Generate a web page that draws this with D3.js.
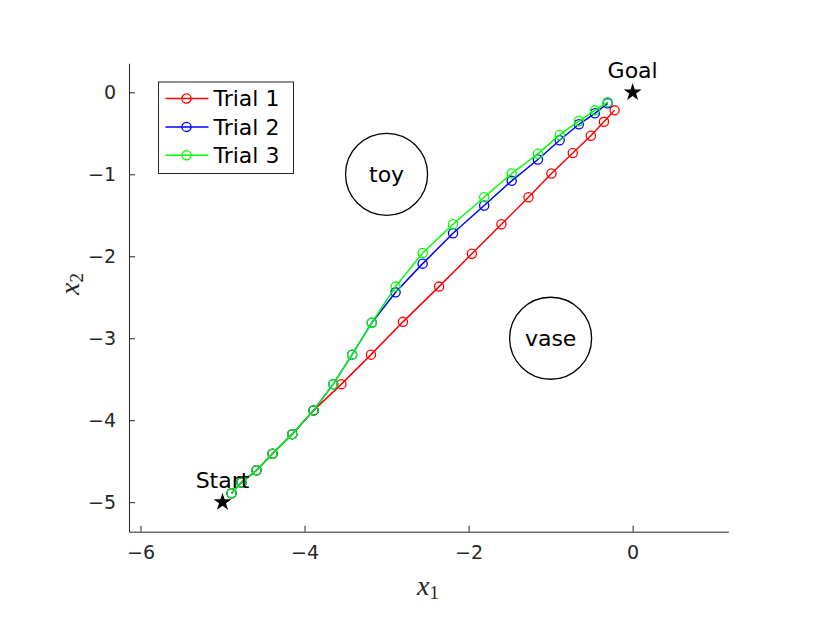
<!DOCTYPE html>
<html>
<head>
<meta charset="utf-8">
<script src="https://cdn.jsdelivr.net/npm/d3@7"></script>
<style>
  body { margin: 0; background: #fff; }
</style>
</head>
<body>
<svg width="830" height="623"></svg>
<script>
const trialNames = ['Trial 1', 'Trial 2', 'Trial 3'];
const trialColors = ['#ff0000', '#0000ff', '#00ff00'];

// shared first part of every trial
const sharedX = [-4.89, -4.77, -4.585, -4.39, -4.15, -3.89];
const sharedY = [-4.89, -4.76, -4.61, -4.41, -4.17, -3.88];

const trial1X = [-3.55, -3.19, -2.80, -2.36, -1.96, -1.60, -1.27, -0.99, -0.73, -0.51, -0.35, -0.22];
const trial1Y = [-3.56, -3.20, -2.80, -2.37, -1.97, -1.61, -1.28, -0.99, -0.74, -0.53, -0.36, -0.22];

const trial2X = [-3.65, -3.42, -3.18, -2.89, -2.56, -2.19, -1.81, -1.475, -1.155, -0.89, -0.655, -0.46, -0.305];
const trial2Y = [-3.56, -3.20, -2.81, -2.44, -2.09, -1.72, -1.38, -1.08, -0.82, -0.585, -0.39, -0.256, -0.134];

const trial3X = [-3.65, -3.42, -3.18, -2.89, -2.56, -2.19, -1.81, -1.475, -1.155, -0.89, -0.655, -0.46, -0.305];
const trial3Y = [-3.56, -3.20, -2.81, -2.37, -1.96, -1.61, -1.28, -0.99, -0.75, -0.52, -0.35, -0.22, -0.12];

const obstacleNames = ['toy', 'vase'];
const obstacleX = [-3, -1];
const obstacleY = [-1, -3];
const obstacleR = 0.5;

const markerNames = ['Start', 'Goal'];
const markerX = [-5, 0];
const markerY = [-5, 0];

const xTicks = [-6, -4, -2, 0];
const yTicks = [0, -1, -2, -3, -4, -5];

const svg = d3.select('svg');
const axisColor = '#262626';
const sans = '"DejaVu Sans", sans-serif';
const serif = '"Liberation Serif", "DejaVu Serif", serif';

const xScale = d3.scaleLinear().domain([-6.14, 1.166]).range([129, 728.3]);
const yScale = d3.scaleLinear().domain([-5.36, 0.354]).range([531.7, 63.3]);

const toPoints = (xs, ys) => xs.map((x, i) => [x, ys[i]]);
const trials = [
    toPoints(sharedX.concat(trial1X), sharedY.concat(trial1Y)),
    toPoints(sharedX.concat(trial2X), sharedY.concat(trial2Y)),
    toPoints(sharedX.concat(trial3X), sharedY.concat(trial3Y))
];

const fmt = d => d < 0 ? '\u2212' + Math.abs(d) : String(d);

// x axis
const xAxisG = svg.append('g')
    .attr('transform', `translate(0,${yScale.range()[0]})`)
    .call(d3.axisBottom(xScale).tickValues(xTicks).tickFormat(fmt).tickSizeInner(-6).tickSizeOuter(0).tickPadding(14));
xAxisG.attr('font-family', sans).attr('font-size', 19);
xAxisG.select('.domain').attr('stroke', axisColor);
xAxisG.selectAll('.tick line').attr('stroke', axisColor);
xAxisG.selectAll('.tick text').attr('fill', axisColor);

// y axis
const yAxisG = svg.append('g')
    .attr('transform', `translate(${xScale.range()[0]},0)`)
    .call(d3.axisLeft(yScale).tickValues(yTicks).tickFormat(fmt).tickSizeInner(-6).tickSizeOuter(0).tickPadding(13));
yAxisG.attr('font-family', sans).attr('font-size', 19);
yAxisG.select('.domain').attr('stroke', axisColor);
yAxisG.selectAll('.tick line').attr('stroke', axisColor);
yAxisG.selectAll('.tick text').attr('fill', axisColor);

// axis labels, latex style
const xLab = svg.append('text')
    .attr('x', 428).attr('y', 595)
    .attr('text-anchor', 'middle')
    .attr('font-family', serif)
    .attr('font-style', 'italic').attr('font-size', 28).attr('fill', axisColor);
xLab.append('tspan').text('x');
xLab.append('tspan').attr('font-style', 'normal').attr('font-size', 19).attr('dy', 4).text('1');

const yLab = svg.append('text')
    .attr('transform', 'translate(79,284) rotate(-90)')
    .attr('text-anchor', 'middle')
    .attr('font-family', serif)
    .attr('font-style', 'italic').attr('font-size', 28).attr('fill', axisColor);
yLab.append('tspan').text('x');
yLab.append('tspan').attr('font-style', 'normal').attr('font-size', 19).attr('dy', 4).text('2');

// obstacles
const obs = svg.append('g').selectAll('g').data(obstacleNames).enter().append('g');
obs.append('circle')
    .attr('cx', (d, i) => xScale(obstacleX[i]))
    .attr('cy', (d, i) => yScale(obstacleY[i]))
    .attr('r', xScale(obstacleR) - xScale(0))
    .attr('fill', 'none').attr('stroke', 'black').attr('stroke-width', 1.3);
obs.append('text')
    .attr('x', (d, i) => xScale(obstacleX[i]))
    .attr('y', (d, i) => yScale(obstacleY[i]))
    .attr('dy', '0.35em')
    .attr('text-anchor', 'middle')
    .attr('font-family', sans).attr('font-size', 22)
    .text(d => d);

// trials
const line = d3.line().x(d => xScale(d[0])).y(d => yScale(d[1]));
trials.forEach((pts, k) => {
    const g = svg.append('g');
    g.append('path').datum(pts)
        .attr('d', line)
        .attr('fill', 'none').attr('stroke', trialColors[k]).attr('stroke-width', 1.5);
    g.selectAll('circle').data(pts).enter().append('circle')
        .attr('cx', d => xScale(d[0]))
        .attr('cy', d => yScale(d[1]))
        .attr('r', 4.6)
        .attr('fill', 'none').attr('stroke', trialColors[k]).attr('stroke-width', 1.3);
});

// start and goal
const star = d3.symbol().type(d3.symbolStar).size(100);
const marks = svg.append('g').selectAll('g').data(markerNames).enter().append('g')
    .attr('transform', (d, i) => `translate(${xScale(markerX[i])},${yScale(markerY[i])})`);
marks.append('path').attr('d', star).attr('fill', 'black');
marks.append('text')
    .attr('y', -14.5)
    .attr('text-anchor', 'middle')
    .attr('font-family', sans).attr('font-size', 22)
    .text(d => d);

// legend
const legend = svg.append('g').attr('transform', 'translate(158.5,82)');
legend.append('rect')
    .attr('width', 135).attr('height', 91.5)
    .attr('fill', 'white').attr('stroke', axisColor).attr('stroke-width', 1);
const rows = legend.selectAll('g.row').data(trialNames).enter().append('g')
    .attr('class', 'row')
    .attr('transform', (d, i) => `translate(0,${16.5 + i * 28.4})`);
rows.append('line')
    .attr('x1', 7).attr('x2', 50)
    .attr('stroke', (d, i) => trialColors[i]).attr('stroke-width', 1.5);
rows.append('circle')
    .attr('cx', 28).attr('r', 4.6)
    .attr('fill', 'none').attr('stroke', (d, i) => trialColors[i]).attr('stroke-width', 1.3);
rows.append('text')
    .attr('x', 55).attr('dy', '0.35em')
    .attr('font-family', sans).attr('font-size', 22)
    .text(d => d);
</script>
</body>
</html>
